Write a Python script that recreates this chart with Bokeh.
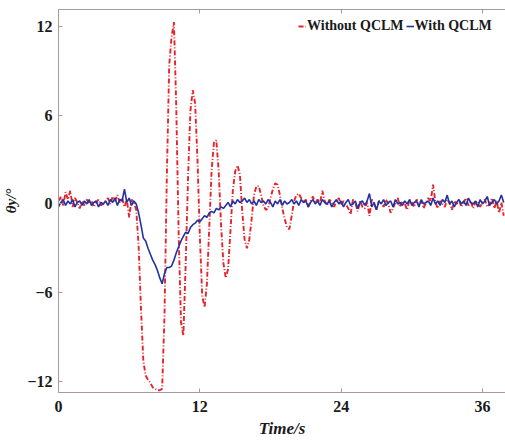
from bokeh.plotting import figure
from bokeh.models import FixedTicker, Legend, LegendItem, Range1d, LinearAxis
from bokeh.embed import file_html
from bokeh.resources import INLINE

# sampled every 0.2 s from t = 0
dt = 0.2
without_qclm = [
    0.2, 0.5, -0.1, 0.8, 0.3, 0.9, -0.2, 0.4, 0.1, -0.3,
    0.2, -0.1, 0.3, 0.0, 0.2, -0.2, 0.1, 0.3, -0.1, 0.0,
    0.2, 0.4, 0.0, 0.5, 0.2, 0.6, 0.1, 0.4, -0.2, 0.3,
    -0.9, 0.3, 0.1, -0.4, -2.8, -7.0, -10.6, -11.6, -11.9, -12.1,
    -12.4, -12.5, -12.6, -12.6, -12.5, -7.5, 2.0, 9.4, 11.3, 12.3,
    6.5, -2.0, -8.0, -8.9, -4.0, 1.8, 6.3, 7.7, 6.8, 3.0,
    -2.2, -6.2, -7.0, -5.4, -1.6, 2.3, 4.2, 4.3, 2.2, -1.4,
    -4.0, -5.0, -4.4, -1.8, 0.9, 2.2, 2.6, 2.0, -0.5, -2.4,
    -3.0, -2.4, -1.0, 0.6, 1.2, 1.2, 0.6, -0.1, -0.4, -0.3,
    0.4, 1.0, 1.4, 1.3, 0.6, -0.3, -1.0, -1.6, -1.7, -0.8,
    0.2, 0.6, 0.7, 0.4, 0.1, 0.3, -0.2, 0.2, 0.5, 0.1,
    0.3, 0.0, 0.9, 0.2, -0.1, 0.3, 0.1, -0.2, 0.2, 0.4,
    -0.1, 0.2, 0.0, -0.3, -0.7, 0.3, 0.1, -0.5, 0.2, -0.2,
    -0.3, 0.1, -0.8, 0.3, 0.0, -0.4, 0.2, 0.1, -0.2, 0.3,
    0.0, -0.6, -0.3, 0.1, 0.4, -0.2, 0.2, 0.0, -0.4, 0.3,
    0.1, -0.2, 0.3, 0.0, 0.2, -0.3, 0.1, 0.4, 0.2, 1.3,
    0.1, -0.3, 0.2, 0.0, -0.2, 0.3, 0.1, -0.4, 0.2, 0.0,
    0.3, -0.2, 0.1, 0.4, -0.1, 0.2, -0.3, 0.1, 0.2, -0.2,
    0.1, 0.3, -0.2, 0.0, 0.4, -0.3, 0.2, -0.6, 0.1, -0.8,
]
with_qclm = [
    -0.2, 0.1, 0.3, -0.1, 0.2, 0.0, 0.3, -0.2, 0.1, 0.2,
    -0.1, 0.2, 0.0, 0.3, -0.1, 0.1, 0.2, -0.2, 0.1, 0.0,
    0.2, -0.1, 0.3, 0.1, 0.4, -0.1, 0.3, 0.2, 1.0, 0.1,
    0.4, -0.1, 0.2, 0.0, -0.6, -1.4, -2.3, -2.5, -3.0, -3.4,
    -3.8, -4.1, -4.5, -5.0, -5.4, -4.7, -4.3, -4.3, -4.2, -3.8,
    -3.3, -2.9, -2.5, -2.2, -1.9, -2.0, -1.6, -1.4, -1.3, -1.1,
    -1.2, -1.0, -0.8, -0.9, -0.6, -0.5, -0.6, -0.3, -0.4, -0.2,
    -0.3, -0.1, 0.1, -0.2, 0.2, 0.0, 0.3, 0.1, 0.2, 0.4,
    0.1, 0.3, 0.0, 0.2, -0.1, 0.3, 0.1, 0.2, 0.0, 0.3,
    0.1, -0.2, 0.2, 0.0, 0.3, -0.1, 0.2, 0.0, 0.1, 0.3,
    0.0, 0.2, -0.1, 0.3, 0.1, 0.2, -0.2, 0.1, 0.3, 0.0,
    0.2, -0.1, 0.3, 0.1, 0.0, 0.2, -0.2, 0.1, 0.3, 0.0,
    0.2, -0.2, 0.1, 0.3, -0.1, 0.0, 0.2, -0.3, 0.1, 0.2,
    -0.1, 0.2, 0.7, -0.2, 0.1, -0.4, 0.2, 0.0, 0.3, -0.1,
    0.1, 0.2, -0.2, 0.3, 0.0, 0.1, -0.1, 0.2, 0.0, 0.3,
    -0.1, 0.1, 0.2, -0.2, 0.3, 0.0, 0.1, 0.2, -0.1, 0.4,
    0.0, 0.2, -0.1, 0.3, 0.1, 0.6, 0.0, 0.2, -0.2, 0.1,
    0.3, 0.0, 0.2, -0.1, 0.4, 0.1, 0.0, 0.2, -0.2, 0.3,
    0.0, 0.2, 0.5, -0.1, 0.1, 0.3, 0.0, 0.2, 0.6, 0.1,
]
time_s = [round(i * dt, 1) for i in range(len(without_qclm))]

x_ticks = [0, 12, 24, 36]
y_ticks = [-12, -6, 0, 6, 12]
series_names = ["Without QCLM", "With QCLM"]

FONT = "Liberation Serif"
AX = "#a89a9a"

p = figure(width=505, height=440, output_backend="svg", toolbar_location=None,
           x_range=Range1d(0, 37.95), y_range=Range1d(-12.75, 13.15),
           min_border_left=58, min_border_right=0, min_border_top=9,
           min_border_bottom=48)
p.grid.visible = False
p.outline_line_color = None

r_red = p.line(time_s, without_qclm, line_color="#e3242b", line_width=1.9,
               line_dash="5 2 1 2")
r_blue = p.line(time_s, with_qclm, line_color="#2232a0", line_width=1.6)

bx = p.xaxis[0]
ly = p.yaxis[0]

# top frame line carrying only small inward ticks, no labels
top_axis = LinearAxis(ticker=FixedTicker(ticks=[], minor_ticks=x_ticks),
                      major_label_standoff=0, major_tick_in=0, major_tick_out=0,
                      minor_tick_in=4, minor_tick_out=0,
                      minor_tick_line_color=AX, axis_line_color=AX)
p.add_layout(top_axis, "above")

for ax in (bx, ly):
    ax.axis_line_color = AX
    ax.major_tick_line_color = AX
    ax.major_tick_in = 4
    ax.major_tick_out = 0
    ax.minor_tick_line_color = None
    ax.major_label_text_font = FONT
    ax.major_label_text_font_style = "bold"
    ax.major_label_text_font_size = "16px"
    ax.major_label_text_color = "#1a1a1a"
    ax.axis_label_text_font = FONT
    ax.axis_label_text_font_style = "bold italic"
    ax.axis_label_text_color = "#1a1a1a"

bx.ticker = FixedTicker(ticks=x_ticks)
ly.ticker = FixedTicker(ticks=y_ticks)
bx.axis_label = "Time/s"
bx.axis_label_text_font_size = "17px"
bx.major_label_standoff = 8
bx.axis_label_standoff = 4
ly.axis_label = "θy/°"
ly.axis_label_text_font_size = "15px"
ly.major_label_standoff = 6
ly.axis_label_standoff = 5

legend = Legend(items=[LegendItem(label=series_names[0], renderers=[r_red]),
                       LegendItem(label=series_names[1], renderers=[r_blue])],
                orientation="horizontal", location=(240, 358),
                border_line_color=None, background_fill_alpha=0,
                label_text_font=FONT, label_text_font_style="bold",
                label_text_font_size="14px", label_text_color="#1a1a1a",
                glyph_width=8, glyph_height=10, label_standoff=1, spacing=2,
                padding=0, margin=0)
p.add_layout(legend)

open("out.html", "w").write(file_html(p, INLINE))
